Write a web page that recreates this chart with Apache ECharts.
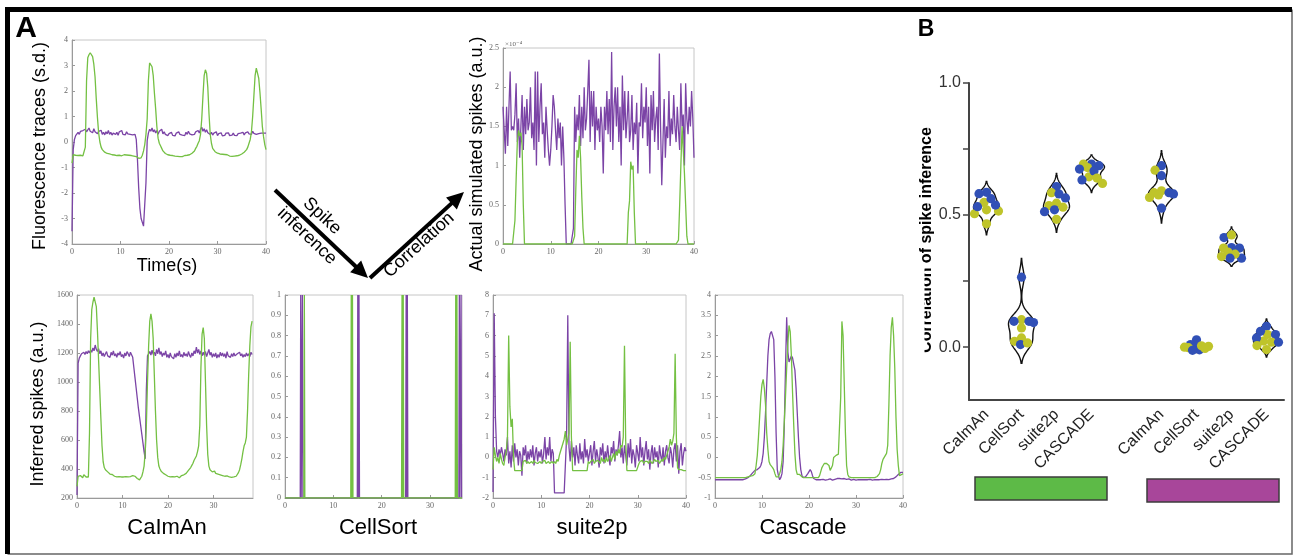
<!DOCTYPE html>
<html><head><meta charset="utf-8">
<script src="https://cdn.jsdelivr.net/npm/echarts@6/dist/echarts.min.js"></script>
<style>html,body{margin:0;padding:0;background:#fff}#c{width:1294px;height:556px}</style>
</head><body><div id="c"></div>
<script>
// ---------------- DATA ----------------
// Panel A traces, sampled every 0.25 s (each row = 2 s)
const fluorGreen = [
 -0.83,-0.5,-0.55,-0.52,-0.55,-0.53,-0.56,-0.52,
 -0.55,-0.54,-0.56,-0.2,2.4,3.3,3.42,3.5,
 3.45,3.35,3.05,2.56,1.7,0.95,0.35,0.0,
 -0.2,-0.3,-0.37,-0.4,-0.42,-0.45,-0.44,-0.47,
 -0.48,-0.5,-0.48,-0.51,-0.5,-0.53,-0.5,-0.52,
 -0.5,-0.54,-0.52,-0.5,-0.53,-0.51,-0.54,-0.52,
 -0.5,-0.53,-0.52,-0.55,-0.54,-0.57,-0.6,-0.64,
 -0.67,-0.62,-0.52,-0.35,-0.1,0.3,0.9,2.4,
 3.1,3.15,2.95,2.6,1.9,1.3,0.6,0.15,
 -0.05,-0.15,-0.25,-0.35,-0.42,-0.45,-0.47,-0.5,
 -0.5,-0.52,-0.5,-0.53,-0.52,-0.55,-0.53,-0.56,
 -0.55,-0.57,-0.55,-0.57,-0.55,-0.53,-0.54,-0.52,
 -0.5,-0.5,-0.47,-0.44,-0.4,-0.35,-0.25,-0.17,
 -0.05,0.05,0.3,0.9,1.8,2.6,2.83,2.7,
 2.15,1.1,0.3,-0.05,-0.25,-0.32,-0.38,-0.42,
 -0.44,-0.45,-0.47,-0.45,-0.48,-0.5,-0.49,-0.52,
 -0.5,-0.53,-0.55,-0.54,-0.56,-0.57,-0.55,-0.56,
 -0.54,-0.55,-0.52,-0.5,-0.47,-0.43,-0.4,-0.35,
 -0.3,-0.2,-0.05,0.1,0.4,1.0,1.8,2.6,
 2.9,2.85,2.5,1.95,1.3,0.6,0.2,-0.1,
 -0.3];
const fluorPurple = [
 -3.5,-0.3,0.1,0.25,0.32,0.38,0.3,0.42,
 0.35,0.45,0.38,0.5,0.4,0.35,0.55,0.42,
 0.48,0.36,0.52,0.4,0.45,0.32,0.42,0.35,
 0.46,0.3,0.38,0.28,0.4,0.32,0.45,0.3,
 0.38,0.27,0.35,0.42,0.3,0.38,0.26,0.4,
 0.33,0.45,0.3,0.36,0.28,0.4,0.32,0.38,
 0.3,0.35,0.28,0.33,0.3,0.1,-0.7,-1.8,
 -2.6,-3.0,-3.15,-3.3,-3.35,-1.6,0.05,0.35,
 0.5,0.42,0.55,0.4,0.48,0.35,0.45,0.3,
 0.42,0.35,0.5,0.32,0.4,0.3,0.36,0.25,
 0.33,0.27,0.38,0.26,0.32,0.24,0.35,0.28,
 0.4,0.3,0.36,0.27,0.33,0.25,0.38,0.3,
 0.42,0.32,0.38,0.28,0.35,0.3,0.4,0.33,
 0.45,0.35,0.5,0.58,0.42,0.52,0.38,0.48,
 0.36,0.42,0.3,0.38,0.27,0.35,0.28,0.4,
 0.25,0.33,0.27,0.36,0.24,0.3,0.26,0.35,
 0.28,0.36,0.25,0.32,0.27,0.35,0.26,0.3,
 0.25,0.33,0.28,0.35,0.3,0.38,0.28,0.36,
 0.3,0.4,0.32,0.38,0.3,0.42,0.34,0.4,
 0.3,0.36,0.33,0.38,0.35,0.37,0.35,0.36,
 0.35];
// Actual simulated spikes, in units of 1e-4
const actualPurple = [
 1.75,1.45,1.15,1.75,1.25,1.75,2.2,1.45,
 1.5,1.45,1.65,2.05,1.3,1.6,1.1,1.5,
 1.9,1.2,1.75,1.4,1.85,1.45,1.55,2.0,
 1.35,1.55,1.2,2.2,1.0,2.2,1.3,1.75,
 2.05,1.4,1.55,1.1,1.75,1.45,1.2,1.0,
 1.2,1.5,1.9,1.75,1.45,1.2,1.6,1.35,
 1.55,1.0,1.5,1.1,0.5,0.0,0.0,0.0,
 0.0,0.0,0.0,0.2,1.75,1.3,1.65,1.45,
 1.9,1.25,1.75,1.35,2.0,1.45,1.6,1.95,
 2.35,1.3,1.95,1.5,1.95,1.2,1.75,1.45,
 1.6,1.3,1.75,1.5,0.9,1.75,1.45,1.95,
 1.4,1.85,1.3,2.45,1.2,1.75,2.0,1.5,
 2.0,1.3,1.75,1.0,2.15,1.45,1.95,1.35,
 1.6,1.95,1.3,1.45,1.9,1.2,1.55,1.4,
 1.8,0.9,1.55,1.5,2.05,1.35,1.75,1.55,
 2.0,1.25,1.75,0.9,1.9,1.45,1.95,1.3,
 1.6,1.75,1.2,2.43,1.5,0.75,1.3,1.85,
 1.1,1.5,1.35,1.95,1.25,1.6,1.4,1.9,
 1.5,1.3,1.75,1.45,1.2,2.05,1.5,1.65,
 1.0,2.05,1.6,1.4,1.75,1.5,1.95,1.6,
 1.1];
const actualGreen = [
 0,0,0,0,0,0,0,0,
 0,0,0.3,0.82,1.3,1.45,1.38,1.42,
 1.25,0.5,0,0,0,0,0,0,
 0,0,0,0,0,0,0,0,
 0,0,0,0,0,0,0,0,
 0,0,0,0,0,0,0,0,
 0,0,0,0,0,0,0,0,
 0,0,0,0,0.1,0.7,1.2,1.1,
 1.38,1.1,0.6,0.2,0,0,0,0,
 0,0,0,0,0,0,0,0,
 0,0,0,0,0,0,0,0,
 0,0,0,0,0,0,0,0,
 0,0,0,0,0,0,0,0,
 0,0.4,0.55,1.05,0.95,1.0,0.4,0,
 0,0,0,0,0,0,0,0,
 0,0,0,0,0,0,0,0,
 0,0,0,0,0,0,0,0,
 0,0,0,0,0,0,0,0,
 0,0,0,0.05,0.5,1.0,1.5,1.2,
 0.9,0.5,0.1,0,0,0,0,0,
 0];
// CaImAn inferred spikes, 0 .. 38.5 s
const caimanGreen = [
 280,350,345,355,350,340,360,350,
 345,355,345,650,1300,1500,1550,1585,
 1580,1520,1350,1150,950,750,560,450,
 410,395,385,380,370,365,360,362,
 355,350,358,345,352,348,355,345,
 350,345,355,348,350,345,352,348,
 350,355,345,350,340,335,330,325,
 335,350,380,420,520,700,1000,1250,
 1420,1470,1420,1300,1050,800,600,480,
 420,400,385,375,370,365,360,355,
 350,355,345,350,348,352,345,340,
 350,345,340,348,355,350,360,365,
 370,380,390,400,410,425,440,460,
 470,490,520,560,700,1100,1330,1375,
 1300,1000,700,500,420,395,385,380,
 375,385,370,380,365,375,360,362,
 355,360,350,345,352,340,345,350,
 342,348,345,352,350,360,375,395,
 430,470,520,560,580,620,800,1050,
 1250,1380,1420];
const caimanPurple = [
 220,1130,1165,1180,1195,1185,1205,1190,
 1210,1195,1215,1200,1220,1205,1235,1215,
 1255,1225,1210,1230,1195,1215,1180,1200,
 1175,1195,1210,1180,1190,1170,1205,1185,
 1215,1180,1195,1170,1200,1185,1210,1175,
 1190,1165,1200,1180,1210,1195,1175,1205,
 1195,1170,1100,1030,960,890,820,760,
 700,640,580,520,470,950,1180,1195,
 1210,1185,1220,1190,1205,1180,1225,1195,
 1235,1190,1210,1175,1200,1185,1215,1170,
 1190,1165,1200,1175,1185,1160,1195,1170,
 1200,1180,1215,1175,1190,1170,1205,1180,
 1195,1175,1210,1185,1170,1200,1180,1215,
 1195,1240,1200,1225,1190,1215,1180,1205,
 1185,1210,1175,1200,1225,1185,1205,1170,
 1195,1175,1200,1165,1190,1170,1205,1180,
 1200,1175,1195,1165,1210,1180,1190,1170,
 1195,1175,1200,1180,1170,1195,1185,1205,
 1180,1195,1170,1190,1175,1200,1180,1195,
 1175,1205,1190];
// CellSort binary events: [time (s), value]
const cellsortGreen = [[0,0],[3.9,0],[4.0,1],[4.1,0],[13.6,0],[13.7,1],[13.8,0],[13.85,0],[13.95,1],[14.05,0],
 [24.1,0],[24.2,1],[24.3,0],[24.35,0],[24.45,1],[24.55,0],[35.2,0],[35.3,1],[35.4,0],[35.45,0],[35.55,1],[35.65,0],[36.6,0]];
const cellsortPurple = [[0,0],[3.15,0],[3.25,1],[3.35,0],[3.5,0],[3.6,1],[3.7,0],[14.95,0],[15.05,1],[15.15,0],[15.2,0],[15.3,1],[15.4,0],
 [24.95,0],[25.05,1],[25.15,0],[25.2,0],[25.3,1],[25.4,0],[35.95,0],[36.05,1],[36.15,0],[36.3,0],[36.4,1],[36.5,0],[36.6,0]];
// suite2p
const suite2pGreen = [
 -0.6,0.5,0.1,-0.2,0.0,-0.3,0.2,-0.1,
 -0.3,-0.4,0.0,0.3,1.0,6.0,2.5,1.5,
 1.9,0.0,-0.65,-0.65,-0.65,-0.65,-0.65,-0.65,
 -0.65,-0.2,-0.25,-0.15,-0.3,-0.2,-0.3,-0.25,
 -0.2,-0.3,-0.15,-0.25,-0.2,-0.3,-0.25,-0.2,
 -0.3,-0.2,-0.25,-0.15,-0.3,-0.25,-0.2,-0.3,
 -0.25,-0.2,-0.3,-0.2,-0.3,-0.1,-0.2,0.1,
 0.3,0.5,0.7,0.9,1.3,0.6,0.9,1.2,
 5.7,1.0,-0.65,-0.65,-0.65,-0.65,-0.65,-0.65,
 -0.65,-0.65,-0.65,-0.65,-0.65,-0.65,-0.65,-0.2,
 -0.3,-0.2,-0.25,-0.1,-0.3,-0.2,-0.25,-0.15,
 -0.2,-0.3,0.0,-0.2,-0.1,-0.25,0.0,-0.2,
 -0.1,0.1,-0.2,0.0,0.2,-0.1,0.3,0.1,
 0.4,0.2,0.6,0.5,1.0,5.5,0.8,-0.65,
 -0.65,-0.65,-0.65,-0.65,-0.65,-0.65,-0.65,-0.65,
 -0.65,-0.3,-0.2,-0.25,-0.15,-0.3,-0.2,-0.25,
 -0.2,-0.3,-0.15,-0.2,-0.3,-0.25,-0.1,-0.2,
 -0.25,-0.15,-0.3,-0.2,-0.1,-0.2,0.0,-0.1,
 0.1,0.3,0.5,0.9,0.6,0.8,1.2,5.1,
 1.0,-0.5,-0.6,-0.6,-0.6,-0.65,-0.65,-0.65,
 -0.65];
const suite2pPurple = [
 -1.7,7.1,2.0,0.3,0.0,0.4,0.1,0.5,
 0.2,-0.2,0.4,0.1,1.0,-0.3,0.3,-0.5,
 0.6,-0.2,0.7,0.0,0.4,-0.4,0.3,0.1,
 -0.9,0.5,0.1,0.6,-0.3,0.3,-0.1,0.4,
 0.0,0.6,-0.4,0.2,0.5,-0.2,0.3,0.0,
 0.4,-0.3,0.2,1.0,-0.1,0.5,0.1,1.0,
 -0.2,0.4,0.2,-1.75,-1.75,-1.75,-1.75,-1.75,
 -1.75,-1.75,-1.75,-1.75,-1.75,1.0,7.0,0.5,
 -0.2,0.8,0.0,0.5,-0.4,0.6,0.1,-0.3,
 0.7,-0.1,0.3,-0.3,0.9,0.0,0.4,-0.2,
 0.2,0.6,-0.4,0.3,0.8,-0.2,0.4,0.0,
 -0.5,0.5,0.1,0.7,-0.3,0.3,-0.1,0.6,
 0.0,-0.4,0.5,0.2,0.8,-0.2,0.4,0.1,
 0.6,1.3,0.0,0.5,-0.3,0.6,0.1,-0.4,
 0.7,0.0,0.9,-0.3,0.4,0.1,-0.5,0.6,
 0.2,-0.2,1.0,0.0,0.5,-0.4,0.3,0.8,
 -0.1,0.4,-0.6,0.2,0.6,-0.3,0.5,0.0,
 0.3,-0.5,0.6,0.1,-0.2,0.5,-0.4,0.3,
 0.6,0.0,-0.3,0.5,0.2,-0.5,0.4,0.7,
 -0.2,0.6,-0.8,0.3,0.7,-0.4,0.2,0.5,
 0.3];
// Cascade
const cascadeGreen = [
 -0.5,-0.5,-0.5,-0.5,-0.5,-0.5,-0.5,-0.5,
 -0.5,-0.5,-0.5,-0.5,-0.5,-0.5,-0.5,-0.5,
 -0.5,-0.5,-0.5,-0.5,-0.5,-0.5,-0.5,-0.5,
 -0.5,-0.5,-0.5,-0.49,-0.48,-0.47,-0.46,-0.45,
 -0.45,-0.42,-0.4,-0.2,0.05,0.5,1.0,1.5,
 1.8,1.92,1.7,1.3,0.6,0.2,-0.1,-0.18,
 -0.2,-0.25,-0.3,-0.4,-0.48,-0.5,-0.48,-0.4,
 -0.3,-0.1,0.3,0.9,1.5,2.2,2.8,3.25,
 3.1,2.5,1.6,0.8,0.1,-0.3,-0.42,-0.45,
 -0.42,-0.45,-0.48,-0.5,-0.5,-0.5,-0.5,-0.5,
 -0.5,-0.5,-0.5,-0.5,-0.5,-0.5,-0.5,-0.5,
 -0.5,-0.45,-0.35,-0.25,-0.2,-0.15,-0.12,-0.15,
 -0.12,-0.2,-0.32,-0.3,-0.2,0.0,0.03,0.05,
 0.05,0.08,0.1,1.5,3.35,3.0,1.8,0.6,
 -0.2,-0.42,-0.48,-0.5,-0.5,-0.5,-0.5,-0.5,
 -0.5,-0.5,-0.5,-0.48,-0.5,-0.5,-0.5,-0.5,
 -0.5,-0.5,-0.5,-0.5,-0.5,-0.5,-0.5,-0.5,
 -0.5,-0.48,-0.47,-0.45,-0.4,-0.3,-0.15,-0.05,
 0.0,0.05,0.1,0.3,1.3,2.5,3.2,3.45,
 3.0,2.2,1.0,0.2,-0.2,-0.45,-0.48,-0.42,
 -0.4];
const cascadePurple = [
 -0.55,-0.55,-0.55,-0.55,-0.55,-0.55,-0.55,-0.55,
 -0.55,-0.55,-0.55,-0.55,-0.55,-0.55,-0.55,-0.55,
 -0.55,-0.55,-0.55,-0.55,-0.55,-0.55,-0.55,-0.55,
 -0.55,-0.55,-0.53,-0.52,-0.5,-0.48,-0.45,-0.42,
 -0.38,-0.34,-0.32,-0.3,-0.3,-0.28,-0.25,-0.2,
 -0.1,0.1,0.5,1.1,1.8,2.5,2.9,3.05,
 3.1,3.1,2.9,2.0,0.6,-0.3,-0.45,-0.55,
 -0.5,-0.4,-0.1,0.8,2.2,3.45,2.6,2.35,
 2.35,2.5,2.45,2.3,2.15,1.7,1.1,0.5,
 0.0,-0.3,-0.45,-0.5,-0.5,-0.48,-0.45,-0.4,
 -0.35,-0.3,-0.35,-0.45,-0.52,-0.55,-0.55,-0.56,
 -0.55,-0.56,-0.55,-0.55,-0.54,-0.55,-0.56,-0.55,
 -0.55,-0.54,-0.53,-0.55,-0.56,-0.55,-0.54,-0.53,
 -0.52,-0.5,-0.52,-0.54,-0.53,-0.5,-0.52,-0.55,
 -0.54,-0.55,-0.53,-0.55,-0.56,-0.55,-0.54,-0.55,
 -0.56,-0.54,-0.55,-0.53,-0.55,-0.56,-0.55,-0.54,
 -0.55,-0.56,-0.55,-0.55,-0.54,-0.55,-0.56,-0.55,
 -0.55,-0.54,-0.55,-0.56,-0.55,-0.55,-0.54,-0.55,
 -0.55,-0.55,-0.54,-0.55,-0.55,-0.54,-0.53,-0.52,
 -0.52,-0.5,-0.48,-0.45,-0.42,-0.38,-0.37,-0.37,
 -0.37];

// Panel B: correlation of spike inference per method (blue / yellow dots)
const bCategories = ['CaImAn','CellSort','suite2p','CASCADE','','CaImAn','CellSort','suite2p','CASCADE'];
const greenBlue = [
 [0.586,0.581,0.562,0.538,0.532],
 [0.265,0.098,0.098,0.093,0.010],
 [0.608,0.580,0.565,0.520,0.513],
 [0.693,0.687,0.674,0.667,0.633]];
const greenYellow = [
 [0.548,0.520,0.515,0.505,0.467],
 [0.104,0.073,0.035,0.022,0.016],
 [0.585,0.545,0.536,0.530,0.484],
 [0.693,0.680,0.645,0.640,0.620]];
const purpleBlue = [
 [0.687,0.649,0.585,0.580,0.526],
 [0.028,0.010,0.000,-0.010,-0.012],
 [0.415,0.377,0.375,0.337,0.337],
 [0.079,0.060,0.048,0.035,0.019]];
const purpleYellow = [
 [0.670,0.592,0.585,0.576,0.567],
 [0.003,0.000,-0.002,0.005,-0.005],
 [0.425,0.375,0.360,0.352,0.343],
 [0.048,0.023,0.019,0.006,-0.009]];
const yTicksB = [0, 0.25, 0.5, 0.75, 1.0];
const yLabelsB = [0, 0.5, 1.0];

// ---------------- BUILD ----------------
const STEP = 0.25;
const pairs = vals => vals.map((v, i) => [i * STEP, v]);
const GREEN = '#74c043', PURPLE = '#7b44a6', BLUE = '#3150b6', YELLOW = '#bfc42a';
const violinBlue = [...greenBlue, [], ...purpleBlue];
const violinYellow = [...greenYellow, [], ...purpleYellow];

const grids = [
 {left:72, top:40, width:194, height:204},
 {left:503, top:48, width:191, height:196},
 {left:77, top:295, width:176, height:203},
 {left:285, top:295, width:177, height:203},
 {left:493, top:295, width:193, height:203},
 {left:715, top:295, width:188, height:203},
 {left:969, top:83, width:315, height:317}
];
grids.forEach((g, i) => { if (i < 6) Object.assign(g, {show:true, borderColor:'#c6c6c6', borderWidth:1, backgroundColor:'rgba(0,0,0,0)'}); });

const axCol = '#9a9a9a';
function mAxis(gi, min, max, interval, showMax) {
  return {gridIndex:gi, type:'value', min, max, interval,
    axisLine:{show:true, onZero:false, lineStyle:{color:axCol, width:1}},
    axisTick:{show:true, inside:true, length:3, lineStyle:{color:axCol}},
    axisLabel:{fontFamily:'Liberation Serif', fontSize:8, color:'#666', margin:4, showMaxLabel: showMax,
      formatter: v => String(Math.round(v * 1000) / 1000)},
    splitLine:{show:false}};
}
const xAxes = [
  mAxis(0, 0, 40, 10, true), mAxis(1, 0, 40, 10, true), mAxis(2, 0, 38.7, 10, false),
  mAxis(3, 0, 36.6, 10, false), mAxis(4, 0, 40, 10, true), mAxis(5, 0, 40, 10, true),
  {gridIndex:6, type:'category', data:bCategories, boundaryGap:true,
   axisLine:{show:true, onZero:false, lineStyle:{color:'#444', width:2}}, axisTick:{show:false},
   axisLabel:{rotate:45, interval:0, fontFamily:'Liberation Sans', fontSize:16, color:'#222', margin:12},
   splitLine:{show:false}}
];
const yAxes = [
  mAxis(0, -4, 4, 1, true), mAxis(1, 0, 2.5, 0.5, true), mAxis(2, 200, 1600, 200, true),
  mAxis(3, 0, 1, 0.1, true), mAxis(4, -2, 8, 1, true), mAxis(5, -1, 4, 0.5, true),
  {gridIndex:6, type:'value', min:-0.2, max:1.0,
   axisLine:{show:true, onZero:false, lineStyle:{color:'#444', width:2}},
   axisTick:{show:true, customValues:yTicksB, length:6, lineStyle:{color:'#444', width:1.5}},
   axisLabel:{customValues:yLabelsB, formatter:v => Number(v).toFixed(1), fontFamily:'Liberation Sans', fontSize:16, color:'#333', margin:8},
   splitLine:{show:false}}
];

function line(gi, data, color) {
  return {type:'line', xAxisIndex:gi, yAxisIndex:gi, data, showSymbol:false, symbol:'none',
    lineStyle:{color, width:1.3}, itemStyle:{color}, silent:true, animation:false, clip:true};
}
const series = [
  line(0, pairs(fluorPurple), PURPLE), line(0, pairs(fluorGreen), GREEN),
  line(1, pairs(actualPurple), PURPLE), line(1, pairs(actualGreen), GREEN),
  line(2, pairs(caimanPurple), PURPLE), line(2, pairs(caimanGreen), GREEN),
  line(3, cellsortPurple, PURPLE), line(3, cellsortGreen, GREEN),
  line(4, pairs(suite2pPurple), PURPLE), line(4, pairs(suite2pGreen), GREEN),
  line(5, pairs(cascadePurple), PURPLE), line(5, pairs(cascadeGreen), GREEN)
];

function kde(vals) {
  const n = vals.length;
  const mean = vals.reduce((a, b) => a + b, 0) / n;
  const sd = Math.sqrt(vals.reduce((a, b) => a + (b - mean) * (b - mean), 0) / (n - 1));
  const s = vals.slice().sort((a, b) => a - b);
  const q = p => { const pos = (n - 1) * p, lo = Math.floor(pos), hi = Math.ceil(pos); return s[lo] + (s[hi] - s[lo]) * (pos - lo); };
  const iqr = q(0.75) - q(0.25);
  const spread = Math.min(sd, iqr / 1.34) || sd;
  const h = 0.9 * spread * Math.pow(n, -0.2);
  const lo = s[0] - 2.3 * h, hi = s[n - 1] + 2.3 * h, N = 90;
  const ys = [], ds = []; let mx = 0;
  for (let i = 0; i <= N; i++) {
    const y = lo + (hi - lo) * i / N; let d = 0;
    for (const v of vals) { const z = (y - v) / h; d += Math.exp(-0.5 * z * z); }
    ys.push(y); ds.push(d); if (d > mx) mx = d;
  }
  return {ys, ds: ds.map(d => d / mx)};
}
// beeswarm-style placement, limited to +/- MAXOFF px (points may overlap when crowded)
const swarmCache = {};
function swarm(k, pxu) {
  if (swarmCache[k]) return swarmCache[k];
  const items = [];
  const nb = violinBlue[k].length;
  for (let i = 0; i < Math.max(nb, violinYellow[k].length); i++) {
    if (i < nb) items.push({v:violinBlue[k][i], col:BLUE});
    if (i < violinYellow[k].length) items.push({v:violinYellow[k][i], col:YELLOW});
  }
  const order = items.map((_, i) => i).sort((a, b) => items[b].v - items[a].v);
  const placed = [], D = 7.6, MAXOFF = 12;
  const cands = [0];
  for (let s = 0.5; s <= MAXOFF; s += 0.5) { cands.push(s); cands.push(-s); }
  let flip = 1;
  for (const i of order) {
    const y = items[i].v * pxu; let best = 0, bestD = -1, found = false;
    for (const c0 of cands) {
      const off = c0 * flip;
      let md = Infinity;
      for (const p of placed) { const a = off - p.dx, b = y - p.y; md = Math.min(md, Math.sqrt(a * a + b * b)); }
      if (md >= D) { best = off; found = true; break; }
      if (md > bestD) { bestD = md; best = off; }
    }
    flip = -flip;
    items[i].dx = best; placed.push({dx:best, y});
  }
  swarmCache[k] = items;
  return items;
}
const violinIdx = bCategories.map((c, i) => [i]).filter(d => violinBlue[d[0]].length);
series.push({type:'custom', xAxisIndex:6, yAxisIndex:6, data:violinIdx, silent:true, animation:false, z:3,
  renderItem(params, api) {
    const k = api.value(0);
    const {ys, ds} = kde(violinBlue[k].concat(violinYellow[k]));
    const cx = api.coord([k, 0])[0], W = 13, pts = [];
    for (let i = 0; i < ys.length; i++) pts.push([cx + W * ds[i], api.coord([k, ys[i]])[1]]);
    for (let i = ys.length - 1; i >= 0; i--) pts.push([cx - W * ds[i], api.coord([k, ys[i]])[1]]);
    return {type:'polygon', shape:{points:pts}, style:{fill:'#fff', stroke:'#111', lineWidth:1.4}};
  }});
series.push({type:'custom', xAxisIndex:6, yAxisIndex:6, data:violinIdx, silent:true, animation:false, z:4,
  renderItem(params, api) {
    const k = api.value(0);
    const pxu = Math.abs(api.size([0, 1])[1]);
    const cx = api.coord([k, 0])[0];
    const items = swarm(k, pxu);
    return {type:'group', children: items.map(p => ({type:'circle',
      shape:{cx: cx + p.dx, cy: api.coord([k, p.v])[1], r:4.6}, style:{fill:p.col}}))};
  }});

// --------- graphics (labels, arrows, frame) ----------
function txt(x, y, text, font, rot, extra) {
  return Object.assign({type:'text', x, y, rotation: rot || 0, silent:true,
    style:{text, font, fill:'#000', align:'center', verticalAlign:'middle', textAlign:'center', textVerticalAlign:'middle'}}, extra || {});
}
function arrow(x1, y1, x2, y2) {
  const L = Math.hypot(x2 - x1, y2 - y1), ux = (x2 - x1) / L, uy = (y2 - y1) / L, hl = 17, hw = 8;
  const bx = x2 - ux * hl, by = y2 - uy * hl;
  return [
    {type:'line', silent:true, shape:{x1, y1, x2:bx + ux * 2, y2:by + uy * 2}, style:{stroke:'#000', lineWidth:4}},
    {type:'polygon', silent:true, shape:{points:[[x2, y2], [bx - uy * hw, by + ux * hw], [bx + uy * hw, by - ux * hw]]}, style:{fill:'#000'}}
  ];
}
const F = '"Liberation Sans", Arial, sans-serif';
const graphics = [
  txt(26, 29, 'A', 'bold 30px ' + F),
  txt(926, 30, 'B', 'bold 23px ' + F),
  txt(40, 146, 'Fluorescence traces (s.d.)', '18px ' + F, Math.PI / 2),
  txt(167, 266, 'Time(s)', '18px ' + F),
  txt(477, 154, 'Actual simulated spikes (a.u.)', '18px ' + F, Math.PI / 2),
  {type:'text', x:505, y:44, silent:true, style:{text:'×10⁻⁴', font:'7px "Liberation Serif", "DejaVu Serif", serif', fill:'#666', align:'left', verticalAlign:'middle', textAlign:'left', textVerticalAlign:'middle'}},
  txt(38, 404, 'Inferred spikes (a.u.)', '18px ' + F, Math.PI / 2),
  txt(167, 528, 'CaImAn', '22px ' + F),
  txt(378, 528, 'CellSort', '22px ' + F),
  txt(592, 528, 'suite2p', '22px ' + F),
  txt(803, 528, 'Cascade', '22px ' + F),
  ...arrow(275, 190, 368, 278),
  ...arrow(370, 278, 464, 192),
  txt(322, 216, 'Spike', '18px ' + F, -0.757),
  txt(307, 236, 'inference', '18px ' + F, -0.757),
  txt(419, 245, 'Correlation', '18px ' + F, 0.735),
  txt(927, 240, 'Correlation of spike inference', 'bold 16px ' + F, Math.PI / 2),
  {type:'rect', silent:true, shape:{x:905, y:262, width:19.5, height:92}, style:{fill:'#fff'}},
  {type:'rect', silent:true, shape:{x:975, y:477, width:132, height:23}, style:{fill:'#5dba47', stroke:'#3c3c3c', lineWidth:1.5}},
  {type:'rect', silent:true, shape:{x:1147, y:479, width:132, height:23}, style:{fill:'#a8469a', stroke:'#3c3c3c', lineWidth:1.5}},
  {type:'polyline', silent:true, shape:{points:[[1292, 9.5], [1292, 554], [7.5, 554]]}, style:{stroke:'#666', lineWidth:1.5, fill:null}},
  {type:'polyline', silent:true, shape:{points:[[7.5, 554], [7.5, 9.5], [1292, 9.5]]}, style:{stroke:'#000', lineWidth:5, fill:null}}
];

const chart = echarts.init(document.getElementById('c'), null, {renderer:'canvas'});
chart.setOption({
  backgroundColor:'#fff',
  animation:false,
  grid:grids,
  xAxis:xAxes,
  yAxis:yAxes,
  series:series,
  graphic:{elements:graphics}
});
</script></body></html>
